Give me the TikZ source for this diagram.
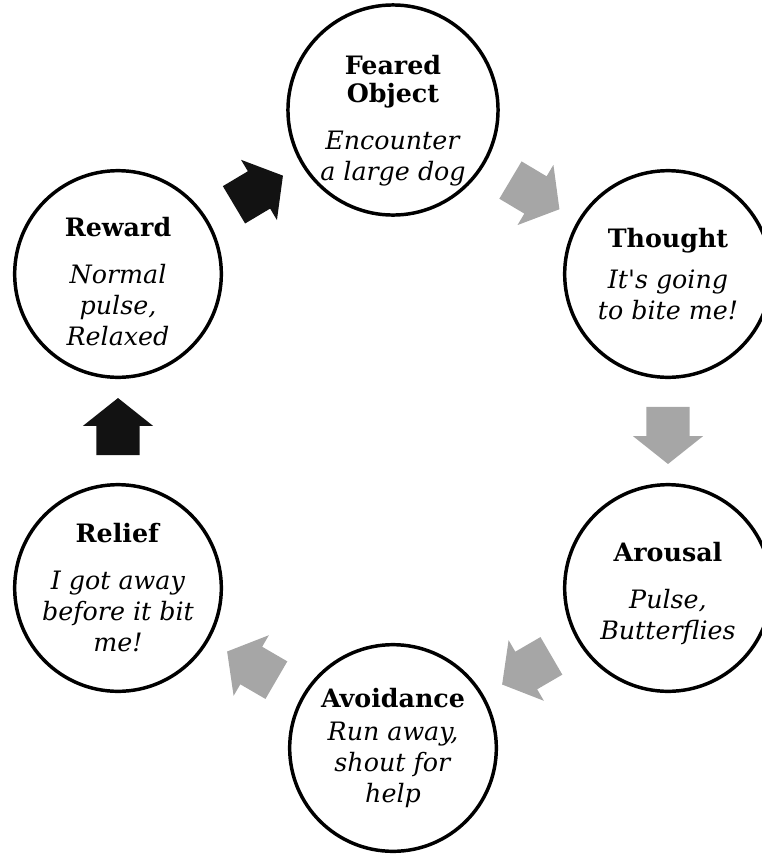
\documentclass[tikz,border=0pt]{standalone}
\usepackage{fontspec}
\setmainfont{DejaVu Serif}
\usetikzlibrary{shapes.arrows}

\tikzset{
  stage/.style={circle, draw, line width=2.6pt, minimum size=155pt, inner sep=0pt,
    align=center, font=\fontsize{19}{23.25}\selectfont},
  blockarrow/.style={single arrow, draw=none, fill=#1, inner xsep=0pt, inner ysep=16.1pt,
    minimum height=42.75pt, minimum width=52.5pt,
    single arrow head extend=10pt, single arrow tip angle=103,
    sloped, allow upside down, pos=0.46},
}

\begin{document}
\begin{tikzpicture}[x=0.75pt, y=-0.75pt]
\useasboundingbox (0,0) rectangle (762,854);
% Nodes
\node[stage] (Fear) at (393,110) {\rule{0pt}{30.4pt}\textbf{Feared}\\[-2.5pt]\textbf{Object}\\[12pt]\textit{Encounter}\\\textit{a large dog}};
\node[stage] (Thought) at (668,274) {\textbf{Thought}\\[8pt]\textit{It\textquotesingle s going}\\\textit{to bite me!}};
\node[stage] (Arousal) at (668,588) {\rule{0pt}{22pt}\textbf{Arousal}\\[12pt]\textit{Pulse,}\\\textit{Butterflies}};
\node[stage] (Avoid) at (393,748) {\textbf{Avoidance}\\[2pt]\textit{Run away,}\\\textit{shout for}\\\textit{help}};
\node[stage] (Relief) at (118,588) {\textbf{Relief}\\[12pt]\textit{I got away}\\\textit{before it bit}\\\textit{me!}};
\node[stage] (Reward) at (118,274) {\rule{0pt}{26.4pt}\textbf{Reward}\\[12pt]\textit{Normal}\\\textit{pulse,}\\\textit{Relaxed}};

% Arrows
\path (Fear) -- (Thought) node[blockarrow=black!35] {};
\path (Thought) -- (Arousal) node[blockarrow=black!35] {};
\path (Arousal) -- (Avoid) node[blockarrow=black!35] {};
\path (Avoid) -- (Relief) node[blockarrow=black!35] {};
\path (Relief) -- (Reward) node[blockarrow=black!93] {};
\path (Reward) -- (Fear) node[blockarrow=black!93] {};
\end{tikzpicture}
\end{document}
